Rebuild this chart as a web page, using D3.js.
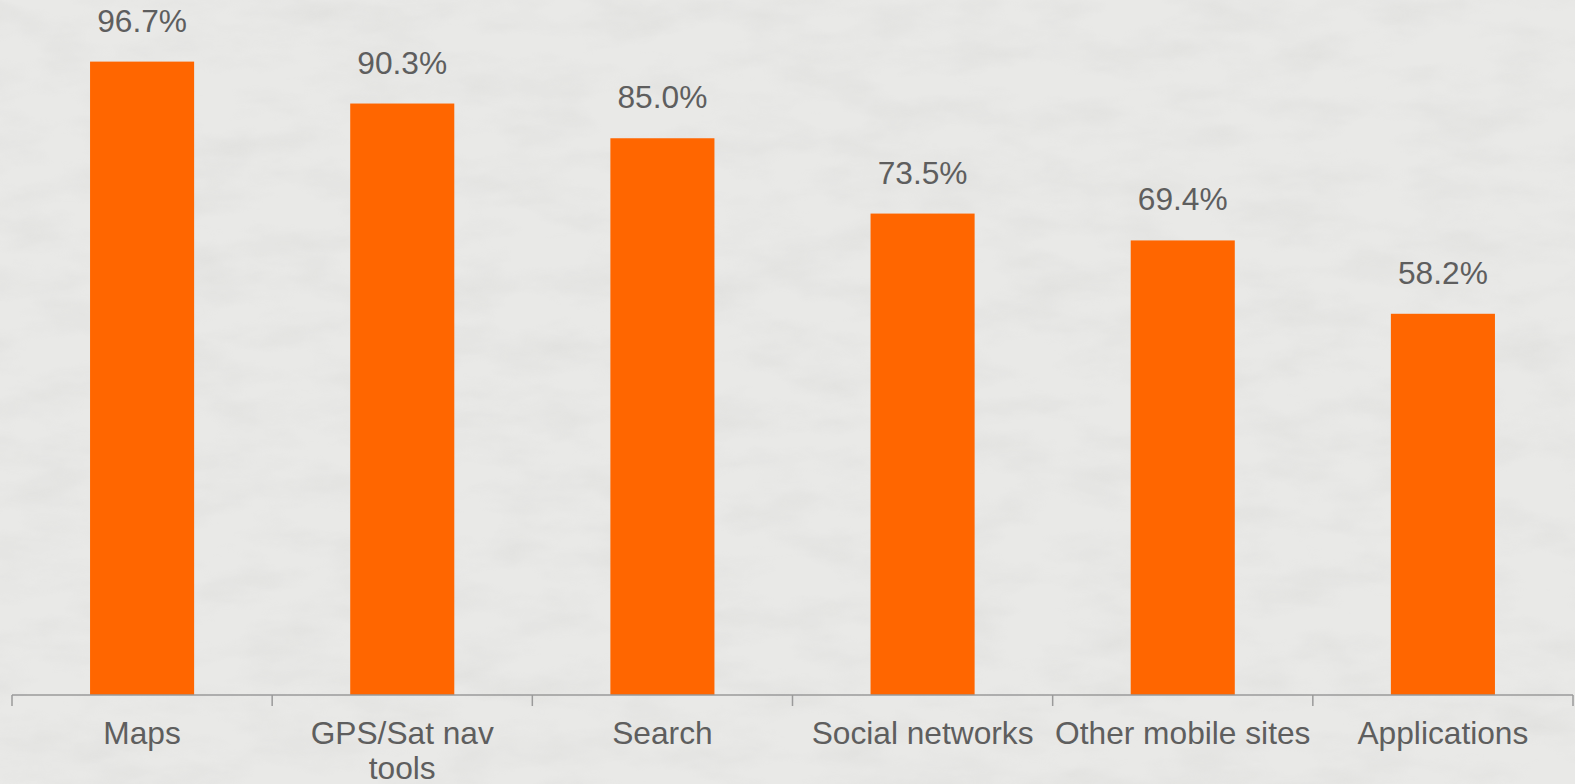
<!DOCTYPE html>
<html lang="en">
<head>
    <meta charset="UTF-8" />
    <title>Mobile usage bar chart</title>
    <script src="https://d3js.org/d3.v7.min.js"></script>
    <style>
        html, body {
            margin: 0;
            padding: 0;
            background: #e8e8e6;
            overflow: hidden;
        }
        text {
            font-family: "Liberation Sans", Arial, sans-serif;
            fill: #5e5e5e;
        }
    </style>
</head>
<body>
    <svg id="chart"></svg>

    <script>
        // data
        const categories = ["Maps", "GPS/Sat nav\ntools", "Search", "Social networks", "Other mobile sites", "Applications"];
        const values = [96.7, 90.3, 85.0, 73.5, 69.4, 58.2];

        const width = 1575;
        const height = 784;
        const axisY = 695;

        const svg = d3.select("#chart")
            .attr("width", width)
            .attr("height", height);

        // concrete-ish background texture
        const defs = svg.append("defs");
        const filter = defs.append("filter")
            .attr("id", "grain")
            .attr("x", 0).attr("y", 0)
            .attr("width", "100%").attr("height", "100%");
        filter.append("feTurbulence")
            .attr("type", "fractalNoise")
            .attr("baseFrequency", "0.012 0.03")
            .attr("numOctaves", 4)
            .attr("seed", 7);
        filter.append("feColorMatrix")
            .attr("type", "matrix")
            .attr("values", "0 0 0 0 0.55  0 0 0 0 0.55  0 0 0 0 0.54  0 0 0 -0.9 0.55");

        svg.append("rect")
            .attr("width", width)
            .attr("height", height)
            .attr("fill", "#e9e9e7");
        svg.append("rect")
            .attr("width", width)
            .attr("height", height)
            .attr("filter", "url(#grain)")
            .attr("opacity", 0.4);

        const x = d3.scaleBand()
            .domain(categories)
            .range([12, 1573])
            .paddingInner(0.6)
            .paddingOuter(0.3);

        const y = d3.scaleLinear()
            .domain([0, 100])
            .range([axisY, 40]);

        // bars
        svg.append("g")
            .selectAll("rect")
            .data(values)
            .join("rect")
            .attr("x", (d, i) => x(categories[i]))
            .attr("y", d => y(d))
            .attr("width", x.bandwidth())
            .attr("height", d => axisY - y(d))
            .attr("fill", "#ff6600");

        // value labels
        svg.append("g")
            .selectAll("text")
            .data(values)
            .join("text")
            .attr("x", (d, i) => x(categories[i]) + x.bandwidth() / 2)
            .attr("y", d => y(d) - 30)
            .attr("text-anchor", "middle")
            .style("font-size", "31.7px")
            .text(d => d.toFixed(1) + "%");

        // x axis: baseline with ticks on band boundaries
        const boundaries = d3.range(categories.length + 1).map(i => 12 + i * (1561 / categories.length));
        const axis = svg.append("g");
        axis.append("line")
            .attr("x1", 12).attr("x2", 1573)
            .attr("y1", axisY).attr("y2", axisY)
            .attr("stroke", "#9a9a9a")
            .attr("stroke-width", 1.5);
        axis.selectAll(".tick")
            .data(boundaries)
            .join("line")
            .attr("class", "tick")
            .attr("x1", d => d).attr("x2", d => d)
            .attr("y1", axisY).attr("y2", axisY + 11)
            .attr("stroke", "#9a9a9a")
            .attr("stroke-width", 1.5);

        // category labels
        const labels = axis.selectAll(".cat")
            .data(categories)
            .join("text")
            .attr("class", "cat")
            .attr("text-anchor", "middle")
            .attr("x", d => x(d) + x.bandwidth() / 2)
            .attr("y", axisY + 49)
            .style("font-size", "31.7px");
        labels.each(function (d) {
            const t = d3.select(this);
            d.split("\n").forEach((line, i) => {
                t.append("tspan")
                    .attr("x", t.attr("x"))
                    .attr("dy", i === 0 ? 0 : 35)
                    .text(line);
            });
        });
    </script>
</body>
</html>
